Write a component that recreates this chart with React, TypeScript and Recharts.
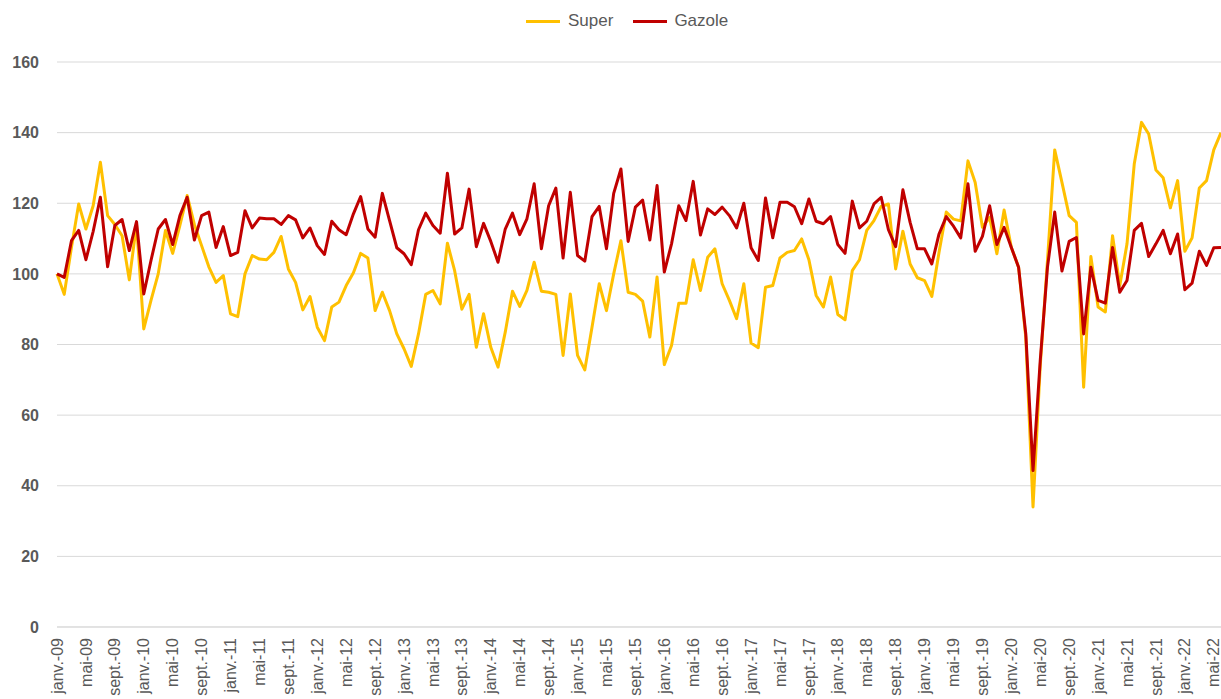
import React from 'react';
import { LineChart, Line, XAxis, YAxis, CartesianGrid, Legend } from 'recharts';

const monthNames = ['janv.', 'févr.', 'mars', 'avr.', 'mai', 'juin', 'juil.', 'août', 'sept.', 'oct.', 'nov.', 'déc.'];
const years = ['09', '10', '11', '12', '13', '14', '15', '16', '17', '18', '19', '20', '21', '22'];
const categories = years.flatMap((y) => monthNames.map((m) => `${m}-${y}`)).slice(0, 162);

const yTicks = [0, 20, 40, 60, 80, 100, 120, 140, 160];

const superValues = [
  100, 94.2, 107.5, 119.8, 112.7, 119.3, 131.6, 116.5, 114, 110.8, 98.3, 114, 84.4, 92.5, 100, 112.3, 105.8, 113.7, 122.2, 114,
  108, 102, 97.6, 99.5, 88.7, 87.9, 100, 105.2, 104.2, 104, 106.1, 110.6, 101.4, 97.6, 89.8, 93.6, 84.9, 81.1, 90.6, 92,
  96.7, 100.3, 105.8, 104.5, 89.6, 94.8, 89.6, 83, 78.8, 73.8, 83, 94.2, 95.3, 91.5, 108.7, 100.9, 90, 94.2, 79.2, 88.7,
  79.2, 73.6, 83.5, 95.1, 90.8, 95.3, 103.3, 95.1, 94.8, 94.2, 76.9, 94.3, 76.9, 72.8, 84.9, 97.2, 89.6, 100, 109.4, 94.8,
  94.2, 92.3, 82.1, 99.1, 74.3, 79.7, 91.7, 91.7, 104, 95.3, 104.7, 107.1, 97.2, 92.5, 87.3, 97.2, 80.4, 79.1, 96.2, 96.7,
  104.5, 106.1, 106.6, 109.9, 104, 93.9, 90.6, 99.1, 88.5, 87, 100.9, 104, 112.3, 115.1, 119.1, 119.8, 101.4, 112.1, 102.8, 98.9,
  98.1, 93.6, 106.1, 117.5, 115.5, 115, 132, 125.9, 113.2, 116, 105.7, 118.1, 107.5, 101.9, 82, 34, 74, 103.8, 135.1, 125.9,
  116.5, 114.6, 67.9, 104.9, 90.6, 89.2, 110.8, 96.7, 108.5, 131.1, 142.9, 139.6, 129.4, 127.2, 118.7, 126.4, 106.4, 110.2, 124.3, 126.4,
  135.1, 140,
];

const gazoleValues = [
  100, 99, 109.4, 112.3, 104, 112, 121.7, 102, 113.7, 115.4, 106.6, 114.8, 94.3, 103.8, 112.7, 115.4, 108.3, 116.5, 121.7, 109.6,
  116.5, 117.5, 107.5, 113.4, 105.2, 106.1, 117.9, 113, 115.8, 115.6, 115.6, 114, 116.5, 115.3, 110.2, 113, 108, 105.5, 114.9, 112.5,
  111.1, 117, 121.9, 112.7, 110.4, 122.8, 115.1, 107.4, 105.7, 102.6, 112.5, 117.2, 113.7, 111.5, 128.5, 111.3, 113, 124, 107.7, 114.3,
  109.2, 103.3, 112.7, 117.2, 111.1, 115.6, 125.5, 107.1, 119.3, 124.3, 104.5, 123.1, 105.2, 103.6, 116.2, 119.1, 107.1, 122.8, 129.7, 109.2,
  118.9, 120.9, 109.6, 125, 100.5, 108.5, 119.3, 115.1, 126.2, 111, 118.4, 116.8, 118.9, 116.5, 113, 120, 107.4, 103.8, 121.5, 110.2,
  120.3, 120.3, 119, 114.2, 121.2, 114.9, 114.2, 116.2, 108.3, 105.8, 120.6, 113, 114.9, 119.8, 121.7, 112.5, 107.7, 123.8, 114.6, 107.1,
  107.1, 102.8, 111.3, 116.2, 113.5, 110.2, 125.5, 106.4, 110.6, 119.3, 108.3, 113.2, 107.5, 101.9, 83, 44.3, 75.5, 101.9, 117.5, 100.8,
  109.2, 110.3, 83, 101.9, 92.5, 91.7, 107.5, 94.8, 98.1, 112.3, 114.3, 104.9, 108.5, 112.3, 105.7, 111.3, 95.5, 97.4, 106.4, 102.4,
  107.4, 107.5,
];

const seriesNames = { super: 'Super', gazole: 'Gazole' };
const colors = { super: '#FFC000', gazole: '#C00000' };

const data = categories.map((c, i) => ({ month: c, super: superValues[i], gazole: gazoleValues[i] }));

const FONT = '"Liberation Sans", Arial, sans-serif';
const TEXT = '#595959';

const XTick = (props: any) => {
  const { x, y, payload } = props;
  return (
    <g transform={`translate(${x},${y})`}>
      <text transform="rotate(-90)" textAnchor="end" dy="0.35em" fill={TEXT} fontSize={16} fontFamily={FONT}>
        {payload.value}
      </text>
    </g>
  );
};

const LegendBox = () => (
  <div style={{ display: 'flex', alignItems: 'center', height: 24, paddingLeft: 526, fontFamily: FONT, fontSize: 17, color: TEXT }}>
    <span style={{ display: 'inline-block', width: 34, height: 3, background: colors.super, marginRight: 8 }} />
    <span style={{ marginRight: 20 }}>{seriesNames.super}</span>
    <span style={{ display: 'inline-block', width: 34, height: 3, background: colors.gazole, marginRight: 7 }} />
    <span>{seriesNames.gazole}</span>
  </div>
);

export default function App() {
  return (
    <div style={{ position: 'absolute', left: 0, top: 0, width: 1221, height: 699, overflow: 'hidden', background: '#fff' }}>
      <LineChart width={1221} height={699} data={data} margin={{ top: 62, right: 0, left: 0, bottom: 0 }}>
        <CartesianGrid vertical={false} stroke="#D9D9D9" strokeWidth={1} />
        <XAxis
          dataKey="month"
          interval={3}
          height={72}
          tickLine={false}
          axisLine={{ stroke: '#D9D9D9' }}
          tickMargin={5}
          tick={<XTick />}
        />
        <YAxis
          width={57}
          domain={[0, 160]}
          ticks={yTicks}
          tickLine={false}
          axisLine={false}
          tickMargin={12}
          tick={{ fill: TEXT, fontSize: 16, fontWeight: 'bold', fontFamily: FONT }}
        />
        <Legend
          verticalAlign="middle"
          align="center"
          layout="horizontal"
          wrapperStyle={{ top: 9, left: 0, width: 1221, height: 24 }}
          content={() => <LegendBox />}
        />
        <Line
          type="linear"
          dataKey="super"
          name={seriesNames.super}
          stroke={colors.super}
          strokeWidth={3}
          dot={false}
          strokeLinejoin="round"
          isAnimationActive={false}
        />
        <Line
          type="linear"
          dataKey="gazole"
          name={seriesNames.gazole}
          stroke={colors.gazole}
          strokeWidth={3}
          dot={false}
          strokeLinejoin="round"
          isAnimationActive={false}
        />
      </LineChart>
    </div>
  );
}
